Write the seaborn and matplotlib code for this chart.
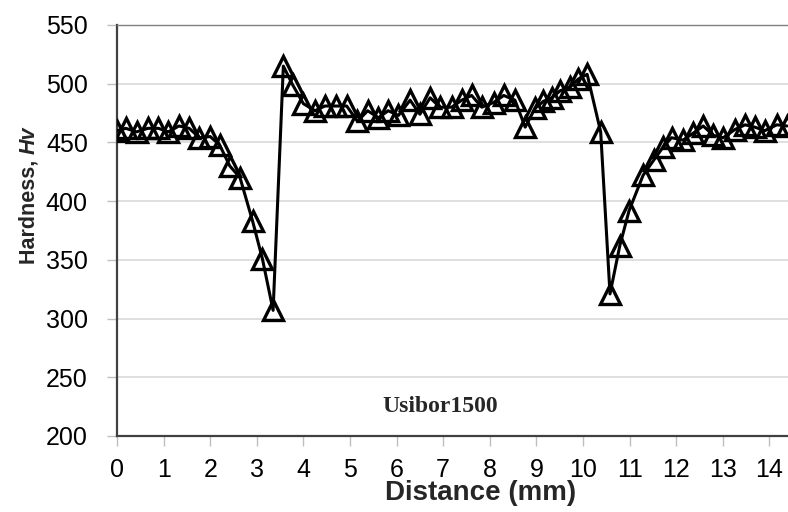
import matplotlib
matplotlib.use("Agg")
import matplotlib.pyplot as plt
import seaborn as sns
import pandas as pd

# Data
distance_mm = [0.00, 0.19, 0.42, 0.66, 0.89, 1.10, 1.33, 1.55, 1.77, 2.00, 2.20,
               2.42, 2.64, 2.91, 3.12, 3.35, 3.57, 3.77, 4.00, 4.25, 4.46,
               4.70, 4.93, 5.16, 5.38, 5.61, 5.82, 6.04, 6.29, 6.50, 6.72,
               6.93, 7.18, 7.40, 7.61, 7.83, 8.08, 8.30, 8.54, 8.76, 8.97,
               9.15, 9.33, 9.51, 9.72, 9.90, 10.09, 10.38, 10.58, 10.79, 10.99,
               11.29, 11.52, 11.72, 11.90, 12.15, 12.37, 12.58, 12.80, 13.01, 13.26,
               13.48, 13.69, 13.90, 14.16, 14.38]
hardness_hv = [460, 462, 459, 462, 462, 459, 464, 462, 454, 455, 448,
               430, 420, 383, 351, 307, 515, 499, 483, 477, 481,
               481, 481, 468, 477, 471, 477, 473, 486, 474, 488,
               480, 480, 486, 490, 480, 484, 490, 486, 463, 479,
               485, 488, 494, 497, 504, 508, 459, 321, 362, 392,
               422, 435, 446, 454, 452, 458, 464, 456, 454, 461,
               465, 463, 460, 465, 464]
x_ticks = list(range(0, 15))
y_ticks = [200, 250, 300, 350, 400, 450, 500, 550]
sample_label = "Usibor1500"

df = pd.DataFrame({"Distance": distance_mm, "Hardness": hardness_hv})

sns.set_theme(style="white")
plt.rcParams["font.family"] = ["Liberation Sans", "DejaVu Sans"]

W, H = 788, 512
fig = plt.figure(figsize=(W / 100, H / 100), dpi=100)
ax = fig.add_axes([117 / W, 1 - 436 / H, 1 - 117 / W, (436 - 25) / H])

sns.lineplot(data=df, x="Distance", y="Hardness", ax=ax, sort=False, estimator=None,
             color="black", linewidth=2.2, marker="^", markersize=14,
             markerfacecolor="none", markeredgecolor="black", markeredgewidth=2.4,
             zorder=3)

ax.set_xlim(0, 14.4)
ax.set_ylim(200, 550)
ax.set_xticks(x_ticks)
ax.set_yticks(y_ticks)
ax.tick_params(axis="both", which="major", labelsize=18, length=7, width=1,
               color="#bfbfbf", direction="out", labelcolor="black")
ax.tick_params(axis="x", bottom=True, pad=9)
ax.tick_params(axis="y", left=True, pad=14)

ax.grid(axis="y", color="#d9d9d9", linewidth=1.2)
ax.set_axisbelow(True)

for side in ["left", "bottom"]:
    ax.spines[side].set_visible(True)
    ax.spines[side].set_color("#404040")
    ax.spines[side].set_linewidth(1.6)
ax.spines["top"].set_visible(True)
ax.spines["top"].set_color("#808080")
ax.spines["top"].set_linewidth(1.0)
ax.spines["right"].set_visible(False)

ax.set_ylabel("")
ax.set_xlabel("Distance (mm)", fontsize=20, fontweight="bold")
# centre of the x label at pixel x=481, y=493
lx = (481 - 117) / (W - 117)
ly = -(493 - 436) / (436 - 25)
ax.xaxis.set_label_coords(lx, ly)
ax.xaxis.label.set_va("center")

t1 = fig.text(29 / W, 1 - 264 / H, "Hardness, ", rotation=90, ha="center",
              va="bottom", fontsize=15.5, fontweight="bold")
ax.annotate("Hv", xy=(0.5, 1.0), xycoords=t1, rotation=90, ha="center", va="bottom",
            fontsize=15.5, fontweight="bold", fontstyle="italic",
            annotation_clip=False)

fig.text(440 / W, 1 - 407 / H, sample_label, ha="center", va="center",
         fontsize=17, fontweight="bold", family=["Liberation Serif", "DejaVu Serif"])

fig.savefig("out.png", dpi=100)
